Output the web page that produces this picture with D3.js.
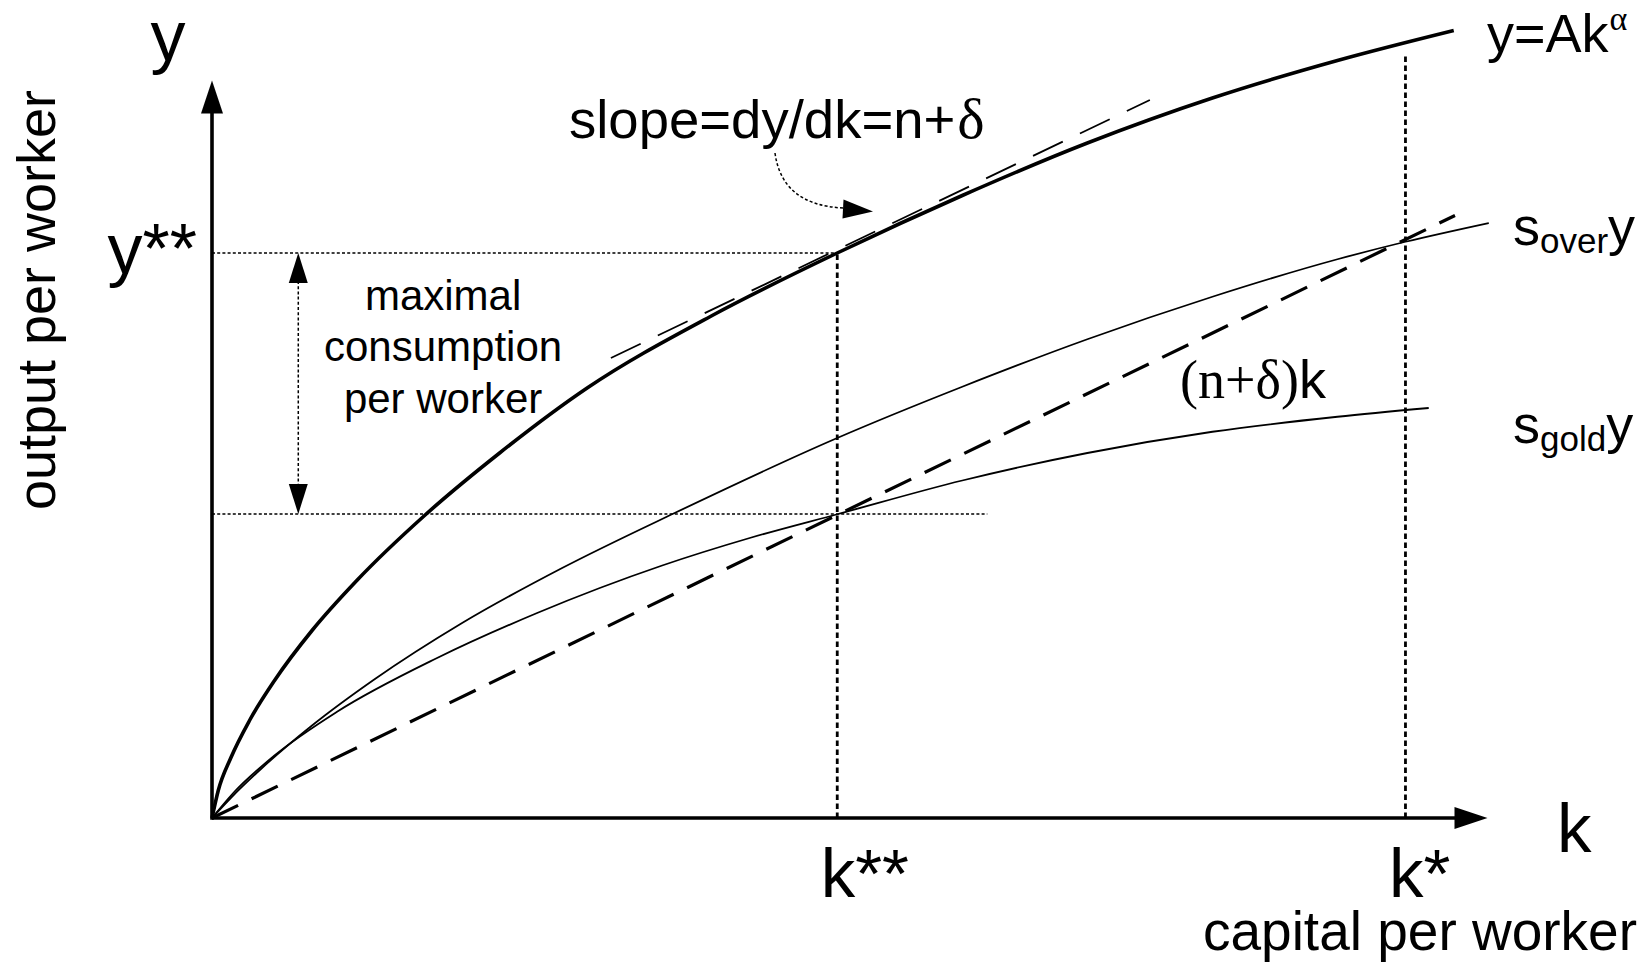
<!DOCTYPE html>
<html>
<head>
<meta charset="utf-8">
<script src="https://cdn.jsdelivr.net/npm/d3@7"></script>
<style>
  html, body { margin: 0; padding: 0; background: #fff; }
  svg { display: block; }
</style>
</head>
<body>
<svg id="chart" width="1644" height="963"></svg>
<script>
// Golden-rule Solow diagram: capital per worker k, output per worker y (model units)

// production function y = A k^alpha
const outputK = [0, 0.05, 0.15, 0.3, 0.5, 0.8, 1.158, 1.7, 2.3, 3.0, 4.0, 5.0, 6.0, 7.0, 8.0, 9.0, 9.93];
const outputY = [0, 0.22, 0.48, 0.78, 1.10, 1.50, 1.90, 2.42, 2.92, 3.44, 4.02, 4.52, 4.98, 5.40, 5.76, 6.06, 6.30];

// saving with the over-accumulating rate
const overK = [0, 0.15, 0.4, 0.8, 1.3, 2.0, 2.8, 3.7, 5.0, 6.0, 7.0, 8.0, 9.0, 9.544, 10.21];
const overY = [0, 0.16, 0.40, 0.74, 1.11, 1.56, 2.00, 2.44, 3.04, 3.45, 3.83, 4.17, 4.47, 4.61, 4.76];

// saving with the golden-rule rate
const goldK = [0, 0.17, 0.5, 1.0, 1.8, 2.6, 3.6, 4.3, 5.0, 6.0, 7.0, 8.0, 9.0, 9.73];
const goldY = [0, 0.20, 0.50, 0.85, 1.28, 1.64, 2.02, 2.24, 2.43, 2.70, 2.92, 3.09, 3.21, 3.28];

// break-even investment (n+delta)k
const depK = [0, 9.94];
const depY = [0, 4.82];

// tangent to the production function at k**
const tanK = [3.19, 7.5];
const tanY = [3.68, 5.744];

// steady states and consumption levels
const kGold = 5.0;
const kStar = 9.544;
const yGold = 4.52;
const invGold = 2.432;
const kStarTop = 6.12;
const invLineEnd = 6.2;

// tick labels on the axes
const kTickValues = [kGold, kStar];
const kTickLabels = ["k**", "k*"];
const yTickValues = [yGold];
const yTickLabels = ["y**"];

const SANS = "'Liberation Sans', Arial, Helvetica, sans-serif";
const SERIF = "'Liberation Serif', 'Times New Roman', serif";

const svg = d3.select("#chart");
const x = d3.scaleLinear().domain([0, 10.2]).range([212, 1487.5]);
const y = d3.scaleLinear().domain([0, 5.9]).range([818, 80.5]);

const line = d3.line().x(d => x(d[0])).y(d => y(d[1])).curve(d3.curveMonotoneX);
const zip = (a, b) => a.map((v, i) => [v, b[i]]);

// reference lines (dotted)
const ref = svg.append("g").attr("fill", "none").attr("stroke", "#000");
ref.append("line")
  .attr("x1", x(0)).attr("x2", x(kGold)).attr("y1", y(yGold)).attr("y2", y(yGold))
  .attr("stroke-width", 1.5).attr("stroke-dasharray", "3,2.2");
ref.append("line")
  .attr("x1", x(0)).attr("x2", x(invLineEnd)).attr("y1", y(invGold)).attr("y2", y(invGold))
  .attr("stroke-width", 1.5).attr("stroke-dasharray", "3,2.2");
ref.append("line")
  .attr("x1", x(kGold)).attr("x2", x(kGold)).attr("y1", y(0)).attr("y2", y(yGold))
  .attr("stroke-width", 2.8).attr("stroke-dasharray", "5.5,3.5");
ref.append("line")
  .attr("x1", x(kStar)).attr("x2", x(kStar)).attr("y1", y(0)).attr("y2", y(kStarTop))
  .attr("stroke-width", 2.8).attr("stroke-dasharray", "5.5,3.5");

// consumption gap double arrow
const gapX = x(0.69);
ref.append("line")
  .attr("x1", gapX).attr("x2", gapX).attr("y1", y(yGold) + 28).attr("y2", y(invGold) - 28)
  .attr("stroke-width", 1.5).attr("stroke-dasharray", "3,2.2");
svg.append("path")
  .attr("d", `M${gapX},${y(yGold)} L${gapX - 9.5},${y(yGold) + 30} L${gapX + 9.5},${y(yGold) + 30} Z`)
  .attr("fill", "#000");
svg.append("path")
  .attr("d", `M${gapX},${y(invGold)} L${gapX - 9.5},${y(invGold) - 30} L${gapX + 9.5},${y(invGold) - 30} Z`)
  .attr("fill", "#000");

// curves
svg.append("path").datum(zip(goldK, goldY)).attr("d", line)
  .attr("fill", "none").attr("stroke", "#000").attr("stroke-width", 1.8);
svg.append("path").datum(zip(overK, overY)).attr("d", line)
  .attr("fill", "none").attr("stroke", "#000").attr("stroke-width", 1.8);
svg.append("path").datum(zip(depK, depY)).attr("d", line)
  .attr("fill", "none").attr("stroke", "#000").attr("stroke-width", 3.2)
  .attr("stroke-dasharray", "29,15");
svg.append("path").datum(zip(tanK, tanY)).attr("d", line)
  .attr("fill", "none").attr("stroke", "#000").attr("stroke-width", 1.8)
  .attr("stroke-dasharray", "33,19");
svg.append("path").datum(zip(outputK, outputY)).attr("d", line)
  .attr("fill", "none").attr("stroke", "#000").attr("stroke-width", 3.6);

// curved pointer from the slope label to the tangency
svg.append("path")
  .attr("d", "M775,153 Q782,205 843,208")
  .attr("fill", "none").attr("stroke", "#000").attr("stroke-width", 1.5)
  .attr("stroke-dasharray", "3,2.2");
svg.append("path")
  .attr("d", "M873,211.5 L842.5,218.5 L843.5,199.5 Z")
  .attr("fill", "#000");

// axes: lines with arrowheads
const axisG = svg.append("g");
axisG.append("line")
  .attr("x1", x(0)).attr("x2", x(10.2) - 30).attr("y1", y(0)).attr("y2", y(0))
  .attr("stroke", "#000").attr("stroke-width", 3.6);
axisG.append("path")
  .attr("d", `M${x(10.2)},${y(0)} L${x(10.2) - 33},${y(0) - 11} L${x(10.2) - 33},${y(0) + 11} Z`)
  .attr("fill", "#000");
axisG.append("line")
  .attr("x1", x(0)).attr("x2", x(0)).attr("y1", y(0) + 1.8).attr("y2", y(5.9) + 30)
  .attr("stroke", "#000").attr("stroke-width", 3.6);
axisG.append("path")
  .attr("d", `M${x(0)},${y(5.9)} L${x(0) - 11},${y(5.9) + 33} L${x(0) + 11},${y(5.9) + 33} Z`)
  .attr("fill", "#000");

// tick labels through d3 axes (no tick marks, no domain line)
const xAxis = d3.axisBottom(x).tickValues(kTickValues)
  .tickFormat((d, i) => kTickLabels[i]).tickSize(0).tickPadding(0);
const gx = svg.append("g").attr("transform", `translate(0,${y(0)})`).call(xAxis);
gx.select(".domain").remove();
gx.selectAll("text")
  .attr("font-family", SANS).attr("font-size", 69).attr("fill", "#000")
  .attr("text-anchor", "start").attr("dx", -17).attr("dy", 0).attr("y", 79);

const yAxis = d3.axisLeft(y).tickValues(yTickValues)
  .tickFormat((d, i) => yTickLabels[i]).tickSize(0).tickPadding(15);
const gy = svg.append("g").attr("transform", `translate(${x(0)},0)`).call(yAxis);
gy.select(".domain").remove();
gy.selectAll("text")
  .attr("font-family", SANS).attr("font-size", 70).attr("fill", "#000")
  .attr("dy", 19);

// text labels
const txt = svg.append("g").attr("font-family", SANS).attr("fill", "#000");

txt.append("text").attr("x", 168).attr("y", 60).attr("text-anchor", "middle")
  .attr("font-size", 70).text("y");
txt.append("text").attr("x", 1557).attr("y", 852).attr("font-size", 69).text("k");

txt.append("text").attr("transform", "translate(55,300) rotate(-90)")
  .attr("text-anchor", "middle").attr("font-size", 54).text("output per worker");
txt.append("text").attr("x", 1420).attr("y", 950).attr("text-anchor", "middle")
  .attr("font-size", 55).text("capital per worker");

// production function label
const prod = txt.append("text").attr("x", 1487).attr("y", 52).attr("font-size", 54);
prod.append("tspan").text("y=Ak");
prod.append("tspan").attr("font-family", SERIF).attr("font-size", 34).attr("dy", -22).attr("dx", 1).text("α");

// saving curve labels
const sOver = txt.append("text").attr("x", 1513).attr("y", 245).attr("font-size", 54);
sOver.append("tspan").text("s");
sOver.append("tspan").attr("font-size", 35).attr("dy", 8).text("over");
sOver.append("tspan").attr("dy", -8).text("y");

const sGold = txt.append("text").attr("x", 1513).attr("y", 443).attr("font-size", 54);
sGold.append("tspan").text("s");
sGold.append("tspan").attr("font-size", 35).attr("dy", 8).text("gold");
sGold.append("tspan").attr("dy", -8).text("y");

// break-even label
const dep = txt.append("text").attr("x", 1180).attr("y", 398).attr("font-size", 54);
dep.append("tspan").attr("font-family", SERIF).text("(n+δ)");
dep.append("tspan").text("k");

// slope label
const slope = txt.append("text").attr("x", 569).attr("y", 138).attr("font-size", 54.5);
slope.append("tspan").text("slope=dy/dk=n+");
slope.append("tspan").attr("font-family", SERIF).attr("font-size", 58).attr("dx", 2).text("δ");

// maximal consumption label
const cons = txt.append("text").attr("text-anchor", "middle").attr("font-size", 42);
[["maximal", 310], ["consumption", 361], ["per worker", 413]].forEach(([t, yy]) => {
  cons.append("tspan").attr("x", x(1.848)).attr("y", yy).text(t);
});
</script>
</body>
</html>
